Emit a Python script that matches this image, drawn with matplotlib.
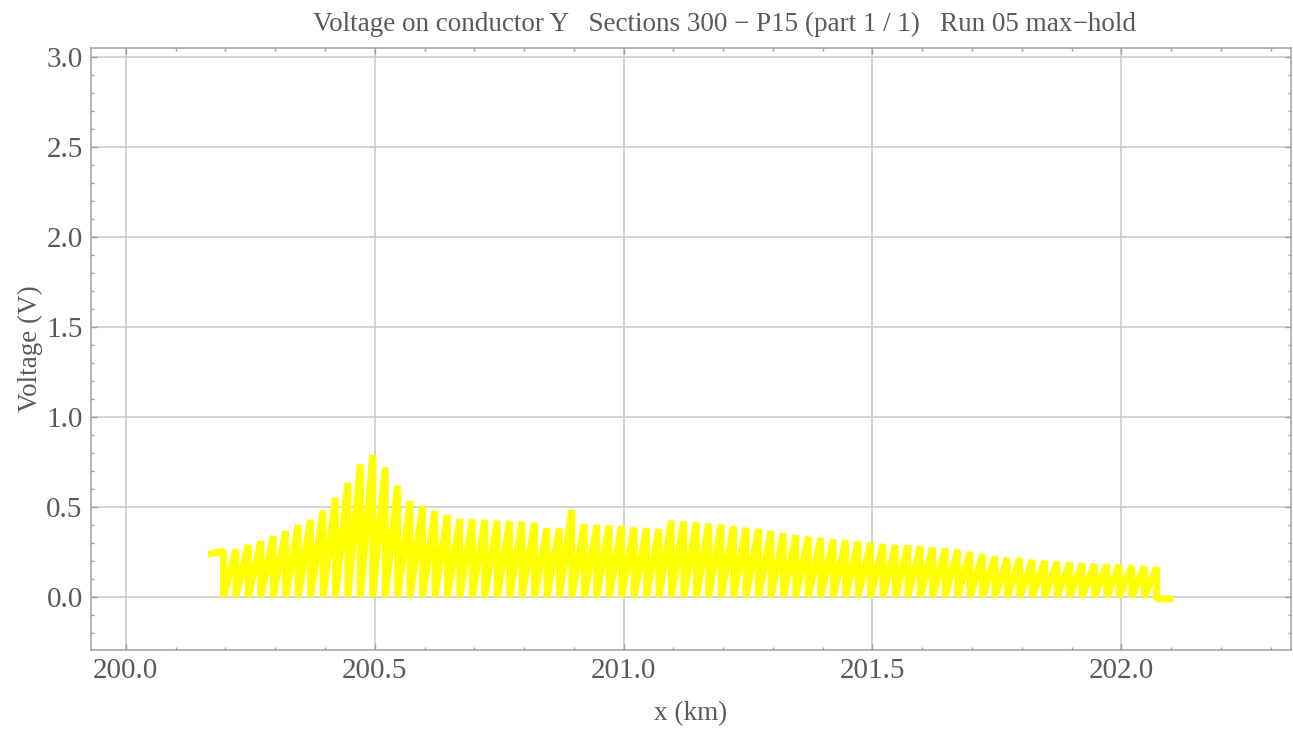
import matplotlib
matplotlib.use("Agg")
import matplotlib.pyplot as plt
from matplotlib.ticker import MultipleLocator

plt.rcParams['font.family'] = ['Liberation Serif', 'DejaVu Serif']

# section positions along the line (km)
section_km = [
    200.221, 200.246, 200.271, 200.296, 200.321, 200.346, 200.371, 200.396,
    200.421, 200.446, 200.471, 200.496, 200.521, 200.546, 200.571, 200.596,
    200.621, 200.646, 200.671, 200.696, 200.721, 200.746, 200.771, 200.796,
    200.821, 200.846, 200.871, 200.896, 200.921, 200.946, 200.971, 200.996,
    201.021, 201.046, 201.071, 201.096, 201.121, 201.146, 201.171, 201.196,
    201.221, 201.246, 201.271, 201.296, 201.321, 201.346, 201.371, 201.396,
    201.421, 201.446, 201.471, 201.496, 201.521, 201.546, 201.571, 201.596,
    201.621, 201.646, 201.671, 201.696, 201.721, 201.746, 201.771, 201.796,
    201.821, 201.846, 201.871, 201.896, 201.921, 201.946, 201.971, 201.996,
    202.021, 202.046, 202.071,
]

# max-hold voltage reached at the end of each section (V)
peak_v = [
    0.265, 0.289, 0.311, 0.339, 0.367, 0.400, 0.428, 0.480, 0.552, 0.635,
    0.737, 0.789, 0.720, 0.619,
    0.533, 0.506, 0.478, 0.456, 0.433, 0.431, 0.428, 0.424, 0.422, 0.419,
    0.413, 0.383, 0.380, 0.483, 0.404,
    0.400, 0.398, 0.394, 0.387, 0.383, 0.378, 0.424, 0.419, 0.415, 0.409,
    0.402, 0.394, 0.385, 0.378, 0.367, 0.354,
    0.344, 0.335, 0.328, 0.320, 0.315, 0.309, 0.302, 0.294, 0.289, 0.287,
    0.281, 0.276, 0.269, 0.263, 0.250,
    0.237, 0.224, 0.217, 0.215, 0.206, 0.200, 0.196, 0.191, 0.185, 0.183,
    0.180, 0.178, 0.174, 0.170, 0.165,
]

# short lead-in before the first section and the tail after the last one
lead_km = [200.165, 200.196]
lead_v = [0.237, 0.255]
tail_km = 202.104
tail_v = -0.01
floor_v = 0.0

# sawtooth: the voltage climbs along a section then drops back at its end
xs = list(lead_km) + [lead_km[-1]]
ys = list(lead_v) + [floor_v]
for x, v in zip(section_km, peak_v):
    xs += [x, x]
    ys += [v, floor_v]
ys[-1] = tail_v
xs.append(tail_km)
ys.append(tail_v)

text_c = '#5a5a5a'
frame_c = '#a0a0a0'

fig = plt.figure(figsize=(12.93, 7.29), dpi=100)
ax = fig.add_axes([0.0704, 0.1084, 0.9281, 0.8258])

ax.plot(xs, ys, color='#ffff00', lw=5.0, solid_joinstyle='bevel',
        solid_capstyle='butt', zorder=3)

ax.set_xlim(199.930, 202.341)
ax.set_ylim(-0.294, 3.05)
ax.xaxis.set_major_locator(MultipleLocator(0.5))
ax.xaxis.set_minor_locator(MultipleLocator(0.1))
ax.yaxis.set_major_locator(MultipleLocator(0.5))
ax.yaxis.set_minor_locator(MultipleLocator(0.1))
ax.xaxis.set_major_formatter(plt.FormatStrFormatter('%.1f'))
ax.yaxis.set_major_formatter(plt.FormatStrFormatter('%.1f'))

ax.grid(which='major', color='#c8c8c8', lw=1.1, zorder=1)
ax.tick_params(which='both', direction='in', top=True, right=True,
               color=frame_c, labelcolor=text_c, labelsize=21, width=1.0)
ax.tick_params(which='major', length=4.5, pad=6)
ax.tick_params(which='minor', length=2.5)
for sp in ax.spines.values():
    sp.set_color(frame_c)
    sp.set_linewidth(1.1)

ax.set_xlabel('x (km)', fontsize=19.5, color=text_c, labelpad=12)
ax.set_ylabel('Voltage (V)', fontsize=19.5, color=text_c, labelpad=2)
ax.set_title('Voltage on conductor Y   Sections 300 \u2212 P15 (part 1 / 1)   '
             'Run 05 max\u2212hold', fontsize=19.5, color=text_c, pad=12,
             x=0.528)

fig.savefig('out.png', dpi=100)
